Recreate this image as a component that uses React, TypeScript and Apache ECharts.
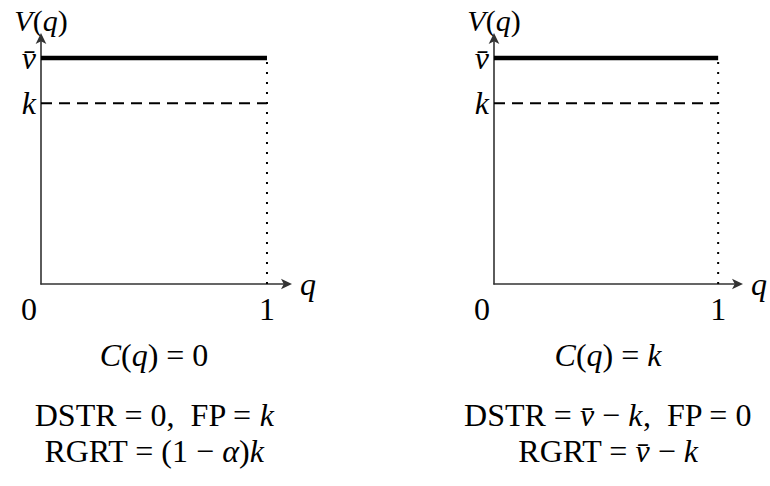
import React, { useEffect, useRef } from "react";
import * as echarts from "echarts";

// ---- data ----
const qEnds = [0, 1];                 // q range of the valuation lines
const vBarLevel = [1, 1];             // V(q) = v̄
const kLevel = [0.8, 0.8];            // cost level k
const capQ = [1, 1];                  // vertical dotted line at q = 1
const capV = [0, 1];                  // from 0 up to v̄
const xTickValues = [0, 1];
const xTickLabels = ["0", "1"];
const yTickValues = [0.8, 1];
const yTickLabels = ["k", "v\u0304"];
const AXIS_MAX = 1.093;
const captionC = ["{i|C}({i|q}) = 0", "{i|C}({i|q}) = {i|k}"];
const captionDSTR = ["DSTR = 0,  FP = {i|k}", "DSTR = {i|v\u0304} \u2212 {i|k},  FP = 0"];
const captionRGRT = ["RGRT = (1 \u2212 {i|\u03b1}){i|k}", "RGRT = {i|v\u0304} \u2212 {i|k}"];

const FONT = "'Liberation Serif', 'DejaVu Serif', serif";
const FS = 32;

const richBase = {
  i: { fontStyle: "italic", fontFamily: FONT, fontSize: FS, color: "#000" },
  n: { fontFamily: FONT, fontSize: FS, color: "#000" },
  z: { fontFamily: FONT, fontSize: FS, color: "#000", padding: [0, 24, 0, 0] },
};
const richName = {
  i: { fontStyle: "italic", fontFamily: FONT, fontSize: 30, color: "#000" },
  n: { fontFamily: FONT, fontSize: 30, color: "#000" },
};

export default function App() {
  const ref = useRef<HTMLDivElement>(null);
  useEffect(() => {
    if (!ref.current) return;
    const chart = echarts.init(ref.current, null, { renderer: "svg" });
    const grids = [
      { left: 41, top: 37, width: 247, height: 247 },
      { left: 494, top: 37, width: 249, height: 247 },
    ];
    const axisLine = {
      show: true,
      onZero: false,
      symbol: ["none", "arrow"],
      symbolSize: [8, 11],
      symbolOffset: [0, 4],
      lineStyle: { color: "#333", width: 1.6 },
    };
    const xAxes = grids.map((_, gi) => ({
      type: "value",
      gridIndex: gi,
      min: 0,
      max: AXIS_MAX,
      axisLine,
      axisTick: { show: false },
      splitLine: { show: false },
      name: "{i|q}",
      nameLocation: "end",
      nameGap: 12,
      nameTextStyle: { rich: richBase, verticalAlign: "middle" },
      axisLabel: {
        customValues: xTickValues,
        margin: 9,
        formatter: (v: number) => {
          const idx = xTickValues.indexOf(v);
          return idx === 0 ? `{z|${xTickLabels[idx]}}` : `{n|${xTickLabels[idx]}}`;
        },
        rich: richBase,
      },
    }));
    const yAxes = grids.map((_, gi) => ({
      type: "value",
      gridIndex: gi,
      min: 0,
      max: AXIS_MAX,
      axisLine,
      axisTick: { show: false },
      splitLine: { show: false },
      name: "{i|V}({i|q})",
      nameLocation: "end",
      nameGap: 2,
      nameTextStyle: { rich: richName, fontFamily: FONT, fontSize: 30, color: "#000", padding: [0, 0, 0, 0] },
      axisLabel: {
        customValues: yTickValues,
        margin: 5,
        formatter: (v: number) => `{i|${yTickLabels[yTickValues.indexOf(v)]}}`,
        rich: richBase,
      },
    }));
    const series: any[] = [];
    grids.forEach((_, gi) => {
      series.push({
        type: "line",
        xAxisIndex: gi,
        yAxisIndex: gi,
        data: capQ.map((q, i) => [q, capV[i]]),
        symbol: "none",
        lineStyle: { color: "#000", width: 2, type: [2, 8] },
        z: 1,
      });
      series.push({
        type: "line",
        xAxisIndex: gi,
        yAxisIndex: gi,
        data: qEnds.map((q, i) => [q, kLevel[i]]),
        symbol: "none",
        lineStyle: { color: "#000", width: 2, type: [11, 7] },
        z: 2,
      });
      series.push({
        type: "line",
        xAxisIndex: gi,
        yAxisIndex: gi,
        data: qEnds.map((q, i) => [q, vBarLevel[i]]),
        symbol: "none",
        lineStyle: { color: "#000", width: 4.5 },
        z: 3,
      });
    });
    const centers = [154, 608];
    const rows = [
      { y: 355, texts: captionC },
      { y: 415, texts: captionDSTR },
      { y: 451, texts: captionRGRT },
    ];
    const graphic: any[] = [];
    rows.forEach((r) => {
      centers.forEach((cx, i) => {
        graphic.push({
          type: "text",
          x: cx,
          y: r.y,
          style: {
            text: r.texts[i],
            align: "center",
            verticalAlign: "middle",
            fontFamily: FONT,
            fontSize: FS,
            fill: "#000",
            rich: richBase,
          },
        });
      });
    });
    chart.setOption({
      animation: false,
      backgroundColor: "#fff",
      grid: grids,
      xAxis: xAxes,
      yAxis: yAxes,
      series,
      graphic,
    });
    return () => chart.dispose();
  }, []);
  return <div ref={ref} style={{ width: 770, height: 486, position: "absolute", left: 0, top: 0 }} />;
}
